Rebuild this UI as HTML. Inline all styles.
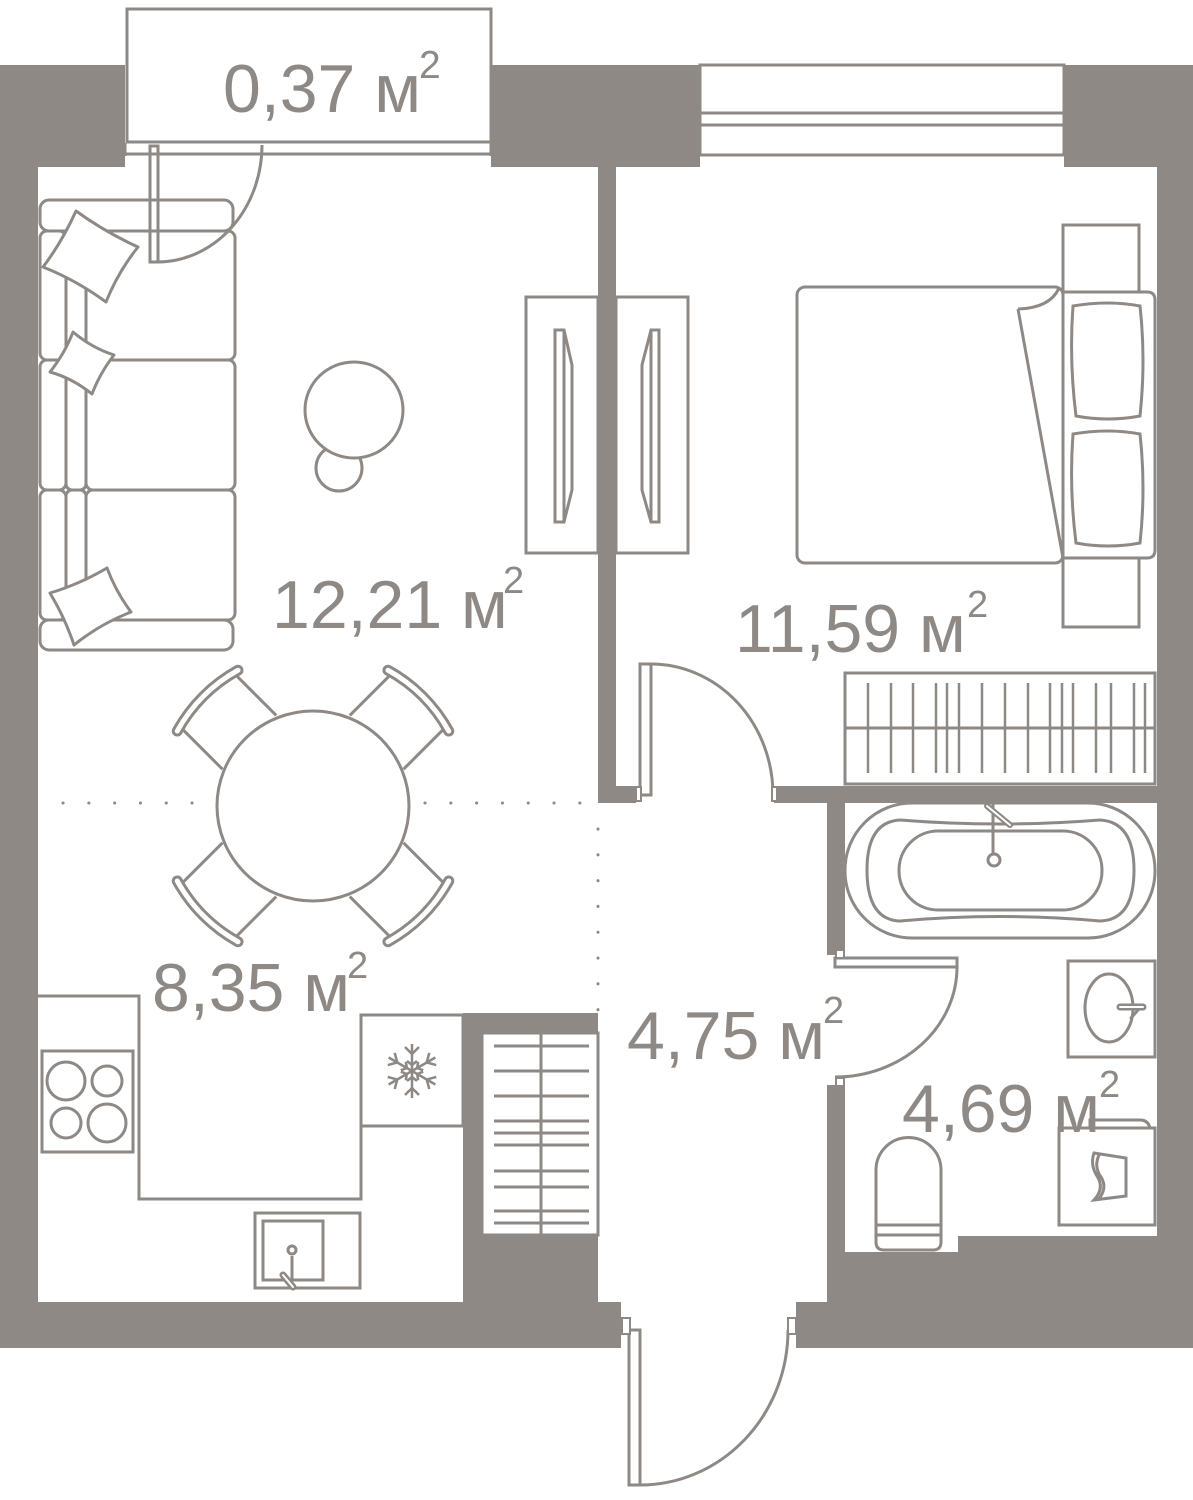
<!DOCTYPE html>
<html><head><meta charset="utf-8"><style>
html,body{margin:0;padding:0;background:#fff;}
svg{display:block;}
text{font-family:"Liberation Sans",sans-serif;fill:#8e8985;}
</style></head><body>
<svg width="1193" height="1500" viewBox="0 0 1193 1500" xmlns="http://www.w3.org/2000/svg">
<g fill="#8e8985">
<rect x="0" y="65" width="125" height="102"/>
<rect x="0" y="65" width="38" height="1283"/>
<rect x="491" y="65" width="209" height="102"/>
<rect x="1064" y="65" width="129" height="102"/>
<rect x="1157" y="65" width="36" height="1283"/>
<rect x="598" y="167" width="18" height="636"/>
<rect x="598" y="786" width="38" height="17"/>
<rect x="774" y="786" width="383" height="17"/>
<rect x="827" y="803" width="18" height="152"/>
<rect x="827" y="1085" width="18" height="263"/>
<rect x="845" y="1252" width="113" height="50"/>
<rect x="958" y="1236" width="199" height="66"/>
<rect x="796" y="1302" width="397" height="46"/>
<rect x="0" y="1302" width="621" height="46"/>
<rect x="463" y="1013" width="135" height="20"/>
<rect x="463" y="1013" width="19" height="289"/>
<rect x="463" y="1235" width="135" height="67"/>
</g>
<g fill="none" stroke="#8e8985" stroke-width="3">
<rect x="127" y="9" width="364" height="133" fill="#fff"/>
<line x1="125" y1="154" x2="491" y2="154"/>
<line x1="125" y1="143" x2="125" y2="156"/>
<line x1="491" y1="143" x2="491" y2="156"/>
<rect x="700" y="65" width="364" height="90" fill="#fff"/>
<line x1="700" y1="113" x2="1064" y2="113"/>
<line x1="700" y1="125" x2="1064" y2="125"/>
<rect x="150" y="146" width="8" height="116"/>
<path d="M158 262 A105 117 0 0 0 262 145"/>
<rect x="40" y="200" width="193" height="31" rx="9"/>
<rect x="40" y="620" width="193" height="30" rx="9"/>
<rect x="40" y="231" width="26" height="129" rx="7"/>
<rect x="40" y="360" width="26" height="130" rx="7"/>
<rect x="40" y="490" width="26" height="130" rx="7"/>
<rect x="66" y="231" width="20" height="129" rx="6"/>
<rect x="66" y="360" width="20" height="130" rx="6"/>
<rect x="66" y="490" width="20" height="130" rx="6"/>
<rect x="86" y="231" width="149" height="129" rx="7"/>
<rect x="86" y="360" width="149" height="130" rx="7"/>
<rect x="86" y="490" width="149" height="130" rx="7"/>
<path d="M76 211 Q105 232 138 247 Q118 272 106 302 Q76 280 43 267 Q62 242 76 211Z" fill="#fff" stroke-linejoin="round"/>
<path d="M73 332 Q92 348 114 355 Q100 373 92 394 Q72 378 50 372 Q65 353 73 332Z" fill="#fff" stroke-linejoin="round"/>
<path d="M107 568 Q116 592 131 612 Q100 624 74 645 Q65 618 50 593 Q80 584 107 568Z" fill="#fff" stroke-linejoin="round"/>
<circle cx="339" cy="468" r="23" fill="#fff"/>
<ellipse cx="354" cy="410" rx="49" ry="48" fill="#fff"/>
<rect x="526" y="297" width="72" height="256"/>
<rect x="616" y="297" width="72" height="256"/>
<path d="M555 330 L564 330 L572 365 L572 490 L564 522 L555 522Z"/>
<line x1="564" y1="330" x2="564" y2="522"/>
<path d="M659 330 L651 330 L642 365 L642 490 L651 522 L659 522Z"/>
<line x1="651" y1="330" x2="651" y2="522"/>
<rect x="640" y="664" width="11" height="131"/>
<path d="M651 664 A122 131 0 0 1 773 795"/>
<rect x="1063" y="225" width="76" height="402" fill="#fff"/>
<rect x="797" y="287" width="266" height="276" rx="8" fill="#fff"/>
<path d="M1063 292 L1147 292 Q1155 292 1155 300 L1155 550 Q1155 558 1147 558 L1063 558Z" fill="#fff"/>
<path d="M1073 306 Q1108 300 1140 306 Q1146 360 1140 416 Q1108 422 1076 416 Q1069 360 1073 306Z"/>
<path d="M1073 434 Q1108 428 1140 434 Q1146 488 1140 543 Q1108 549 1076 543 Q1069 488 1073 434Z"/>
<path d="M1018 309 Q1050 308 1059 288 M1018 309 L1063 558"/>
<rect x="845" y="673" width="310" height="111"/>
<line x1="845" y1="728" x2="1155" y2="728"/>
<g stroke-width="2.5">
<path d="M868 683V773M891 683V773M913 683V773M936 683V773M947 683V773M959 683V773M982 683V773M1005 683V773M1028 683V773M1050 683V773M1062 683V773M1073 683V773M1096 683V773M1111 683V773M1134 683V773M1145 683V773"/>
</g>
<rect x="845" y="803" width="310" height="135" rx="67" fill="#fff"/>
<path d="M900 820 Q1000 828 1100 820 Q1134 822 1134 870 Q1134 920 1100 921 Q1000 912 900 921 Q867 920 867 870 Q867 822 900 820Z"/>
<rect x="899" y="831" width="203" height="79" rx="39"/>
<line x1="993" y1="804" x2="993" y2="855"/>
<circle cx="994" cy="860" r="6" fill="#fff"/>
<path d="M987 806 L1010 825" stroke-width="6" stroke-linecap="round"/>
<path d="M987 806 L1010 825" stroke="#fff" stroke-width="2" stroke-linecap="round"/>
<rect x="835" y="958" width="122" height="9"/>
<path d="M957 967 A122 110 0 0 1 835 1077"/>
<rect x="1068" y="961" width="87" height="96"/>
<ellipse cx="1109" cy="1008" rx="24" ry="34"/>
<path d="M1120 1007 L1143 1007" stroke-width="7" stroke-linecap="round"/>
<path d="M1120 1007 L1143 1007" stroke="#fff" stroke-width="2" stroke-linecap="round"/>
<path d="M1138 1010 L1131 1018" stroke-width="3" stroke-linecap="round"/>
<path d="M1090 1128 L1090 1120 L1140 1120 Q1148 1120 1150 1128"/>
<rect x="1059" y="1128" width="96" height="97" fill="none"/>
<path d="M1094 1153 L1126 1158 L1126 1196 L1094 1200 Q1105 1188 1097 1176 Q1090 1165 1094 1153Z M1100 1153 Q1093 1166 1101 1177 Q1108 1188 1098 1200"/>
<path d="M876 1170 A32.5 32.5 0 0 1 941 1170 L941 1242 Q941 1250 933 1250 L884 1250 Q876 1250 876 1242Z"/>
<line x1="876" y1="1225" x2="941" y2="1225"/>
<line x1="876" y1="1235" x2="941" y2="1235"/>
<polyline points="38,996 139,996 139,1199 361,1199 361,1015 463,1015"/>
<rect x="361" y="1015" width="102" height="111"/>
<line x1="361" y1="1126" x2="361" y2="1199"/>
<rect x="42" y="1051" width="91" height="101"/>
<circle cx="66" cy="1081" r="19"/><circle cx="107" cy="1081" r="15"/>
<circle cx="66" cy="1123" r="15"/><circle cx="107" cy="1123" r="19"/>
<rect x="255" y="1213" width="105" height="75"/>
<rect x="263" y="1221" width="60" height="59"/>
<circle cx="292" cy="1250" r="4"/>
<line x1="292" y1="1256" x2="292" y2="1280"/>
<path d="M283 1275 L293 1287" stroke-width="7" stroke-linecap="round"/>
<path d="M283 1275 L293 1287" stroke="#fff" stroke-width="2" stroke-linecap="round"/>
<g stroke-width="2.5" transform="translate(412,1071)">
<g><line x1="0" y1="0" x2="0" y2="-27"/><polyline points="-7,-24 0,-17 7,-24"/><polyline points="-5,-10 0,-6 5,-10"/></g>
<g transform="rotate(60)"><line x1="0" y1="0" x2="0" y2="-27"/><polyline points="-7,-24 0,-17 7,-24"/><polyline points="-5,-10 0,-6 5,-10"/></g>
<g transform="rotate(120)"><line x1="0" y1="0" x2="0" y2="-27"/><polyline points="-7,-24 0,-17 7,-24"/><polyline points="-5,-10 0,-6 5,-10"/></g>
<g transform="rotate(180)"><line x1="0" y1="0" x2="0" y2="-27"/><polyline points="-7,-24 0,-17 7,-24"/><polyline points="-5,-10 0,-6 5,-10"/></g>
<g transform="rotate(240)"><line x1="0" y1="0" x2="0" y2="-27"/><polyline points="-7,-24 0,-17 7,-24"/><polyline points="-5,-10 0,-6 5,-10"/></g>
<g transform="rotate(300)"><line x1="0" y1="0" x2="0" y2="-27"/><polyline points="-7,-24 0,-17 7,-24"/><polyline points="-5,-10 0,-6 5,-10"/></g>
</g>
<rect x="482" y="1033" width="116" height="202" fill="#fff"/>
<line x1="541" y1="1033" x2="541" y2="1235"/>
<path d="M494 1046H589M494 1071H589M494 1096H589M494 1121H589M494 1133H589M494 1145H589M494 1171H589M494 1187H589M494 1211H589M494 1223H589"/>
<rect x="629" y="1330" width="11" height="155"/>
<path d="M640 1485 A148 155 0 0 0 788 1330"/>
</g>
<g fill="#fff" stroke="#8e8985" stroke-width="2">
<rect x="622" y="1318" width="8" height="16"/>
<rect x="788" y="1318" width="8" height="16"/>
<rect x="636" y="787" width="5" height="14"/>
<rect x="772" y="787" width="5" height="14"/>
<rect x="836" y="950" width="8" height="8"/>
<rect x="836" y="1078" width="8" height="8"/>
</g>
<g fill="none" stroke="#8e8985" stroke-width="3">
<g transform="rotate(45 313 806)">
<line x1="223" y1="768" x2="168" y2="768"/><line x1="223" y1="844" x2="168" y2="844"/>
<path d="M164 763 A155 155 0 0 0 164 849" stroke-width="11" stroke-linecap="round"/>
<path d="M164 763 A155 155 0 0 0 164 849" stroke="#fff" stroke-width="5" stroke-linecap="round"/>
</g>
<g transform="rotate(135 313 806)">
<line x1="223" y1="768" x2="168" y2="768"/><line x1="223" y1="844" x2="168" y2="844"/>
<path d="M164 763 A155 155 0 0 0 164 849" stroke-width="11" stroke-linecap="round"/>
<path d="M164 763 A155 155 0 0 0 164 849" stroke="#fff" stroke-width="5" stroke-linecap="round"/>
</g>
<g transform="rotate(225 313 806)">
<line x1="223" y1="768" x2="168" y2="768"/><line x1="223" y1="844" x2="168" y2="844"/>
<path d="M164 763 A155 155 0 0 0 164 849" stroke-width="11" stroke-linecap="round"/>
<path d="M164 763 A155 155 0 0 0 164 849" stroke="#fff" stroke-width="5" stroke-linecap="round"/>
</g>
<g transform="rotate(-45 313 806)">
<line x1="223" y1="768" x2="168" y2="768"/><line x1="223" y1="844" x2="168" y2="844"/>
<path d="M164 763 A155 155 0 0 0 164 849" stroke-width="11" stroke-linecap="round"/>
<path d="M164 763 A155 155 0 0 0 164 849" stroke="#fff" stroke-width="5" stroke-linecap="round"/>
</g>
<ellipse cx="313" cy="806" rx="96" ry="95" fill="#fff"/>
</g>
<g stroke="#8e8985" stroke-width="3" stroke-linecap="round" stroke-dasharray="0.1 25.7" fill="none">
<line x1="63" y1="803" x2="200" y2="803"/>
<line x1="425" y1="803" x2="598" y2="803"/>
<line x1="598" y1="829" x2="598" y2="1013"/>
</g>
<text x="223" y="112" font-size="68">0,37 м</text><text x="419" y="78" font-size="39">2</text>
<text x="272" y="628" font-size="68">12,21 м</text><text x="503" y="593" font-size="38">2</text>
<text x="735" y="652" font-size="68">11,59 м</text><text x="967" y="617" font-size="38">2</text>
<text x="152" y="1011" font-size="68">8,35 м</text><text x="347" y="978" font-size="38">2</text>
<text x="627" y="1059" font-size="68">4,75 м</text><text x="823" y="1023" font-size="38">2</text>
<text x="902" y="1132" font-size="68">4,69 м</text><text x="1099" y="1097" font-size="38">2</text>
</svg>
</body></html>
